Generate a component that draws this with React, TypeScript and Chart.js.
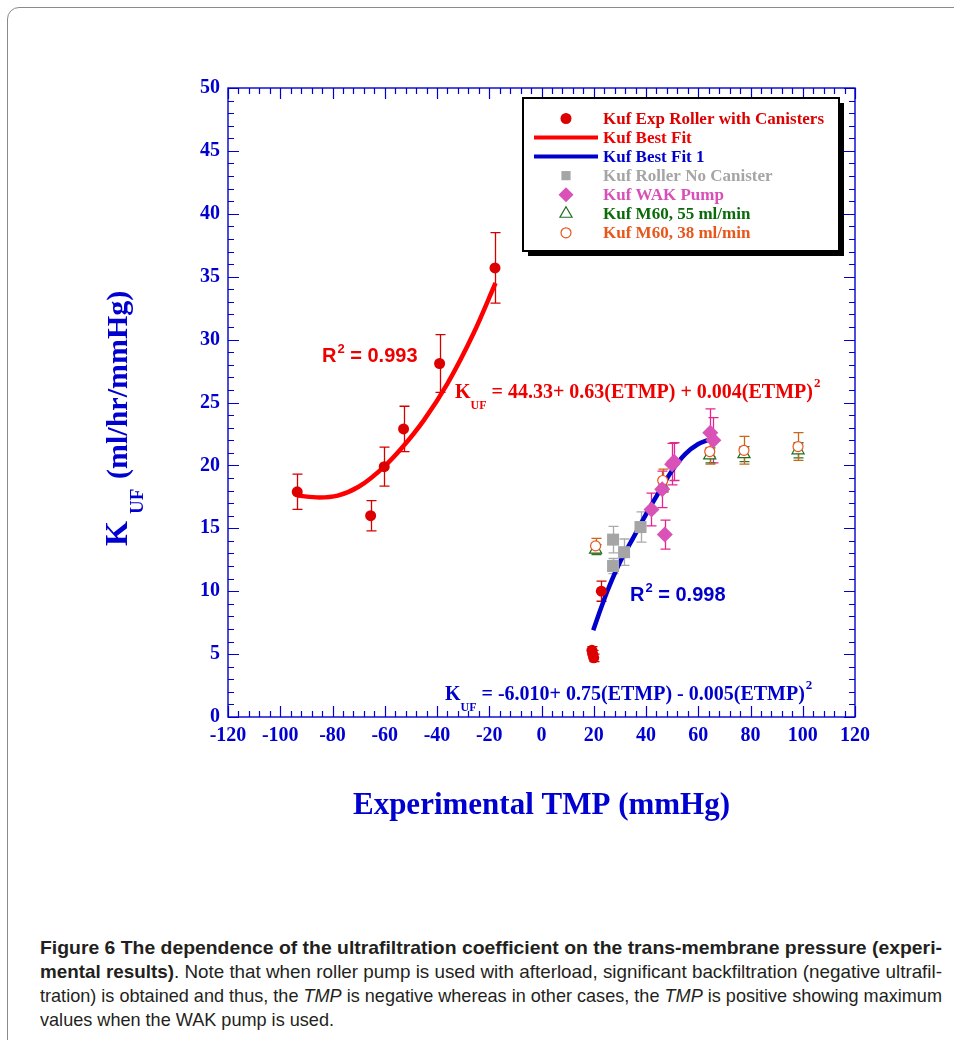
import React, { useEffect, useLayoutEffect, useRef } from "react";
import { Chart, registerables } from "chart.js";

Chart.register(...registerables);

// ---------- data ----------
const xTickValues = [-120, -100, -80, -60, -40, -20, 0, 20, 40, 60, 80, 100, 120];
const yTickValues = [0, 5, 10, 15, 20, 25, 30, 35, 40, 45, 50];

const rollerCanTMP = [-93.5, -65.4, -60.2, -52.8, -39.0, -17.8, 22.9, 19.3, 20.0, 19.6];
const rollerCanKuf = [17.9, 16.0, 19.9, 22.9, 28.1, 35.7, 10.0, 5.3, 4.7, 5.0];
const rollerCanErr = [1.4, 1.2, 1.55, 1.8, 2.3, 2.8, 0.8, 0.3, 0.3, 0.3];

const fitTMP = [-93.5, -85, -78, -70, -60, -53, -45, -36, -26, -17.6];
const fitKuf = [17.6, 17.45, 17.6, 18.3, 19.95, 21.5, 23.6, 26.5, 30.5, 34.5];

const fit1TMP = [19.8, 22, 25, 30, 35, 40, 45, 50, 55, 60, 63.5];
const fit1Kuf = [6.9, 8.2, 9.9, 12.3, 14.2, 16.1, 17.9, 19.6, 20.9, 21.7, 22.0];

const noCanTMP = [27.4, 27.4, 31.6, 37.9];
const noCanKuf = [14.1, 12.0, 13.1, 15.1];
const noCanErr = [1.05, 0.6, 1.05, 1.2];

const wakTMP = [42.1, 47.2, 46.2, 50.0, 50.8, 64.6, 65.8];
const wakKuf = [16.5, 14.5, 18.1, 20.1, 20.3, 22.6, 22.0];
const wakErr = [1.3, 1.15, 1.45, 1.65, 1.5, 1.9, 1.8];

const m55TMP = [20.7, 46.4, 64.4, 77.5, 98.2];
const m55Kuf = [13.3, 18.4, 20.8, 20.9, 21.2];
const m55Err = [0.4, 0.5, 0.6, 0.6, 0.6];

const m38TMP = [20.7, 46.4, 64.4, 77.5, 98.2];
const m38Kuf = [13.6, 18.8, 21.1, 21.2, 21.5];
const m38Err = [0.6, 0.9, 1.0, 1.1, 1.1];

const legendLabels = [
  "Kuf Exp Roller with Canisters",
  "Kuf Best Fit",
  "Kuf Best Fit 1",
  "Kuf Roller No Canister",
  "Kuf WAK Pump",
  "Kuf M60, 55 ml/min",
  "Kuf M60, 38 ml/min",
];

// ---------- helpers ----------
const pts = (xs: number[], ys: number[]) => xs.map((x, i) => ({ x, y: ys[i] }));

const SERIF = '"Liberation Serif", "Times New Roman", serif';
const SANS = '"Liberation Sans", Arial, sans-serif';
const AXIS_BLUE = "#0000d0";

function drawMarker(
  ctx: CanvasRenderingContext2D,
  style: string,
  x: number,
  y: number,
  r: number,
  fill: string,
  stroke: string,
  lw: number
) {
  ctx.beginPath();
  if (style === "circle") {
    ctx.arc(x, y, r, 0, Math.PI * 2);
  } else if (style === "rect") {
    const s = r * Math.SQRT1_2;
    ctx.rect(x - s, y - s, 2 * s, 2 * s);
  } else if (style === "rectRot") {
    ctx.moveTo(x - r, y);
    ctx.lineTo(x, y - r);
    ctx.lineTo(x + r, y);
    ctx.lineTo(x, y + r);
    ctx.closePath();
  } else if (style === "triangle") {
    ctx.moveTo(x, y - r);
    ctx.lineTo(x + r * 0.866, y + r * 0.5);
    ctx.lineTo(x - r * 0.866, y + r * 0.5);
    ctx.closePath();
  }
  ctx.fillStyle = fill;
  ctx.fill();
  if (lw > 0) {
    ctx.lineWidth = lw;
    ctx.strokeStyle = stroke;
    ctx.stroke();
  }
}

// error bars drawn through the chart's scales
const errorBarPlugin = {
  id: "errorBars",
  beforeDatasetsDraw(chart: any) {
    const { ctx, scales } = chart;
    const xs = scales.x;
    const ys = scales.y;
    chart.data.datasets.forEach((ds: any) => {
      if (!ds.errors) return;
      ctx.save();
      ctx.strokeStyle = ds.errorColor;
      ctx.lineWidth = 1.3;
      ds.data.forEach((p: any, j: number) => {
        const e = ds.errors[j];
        const px = Math.round(xs.getPixelForValue(p.x)) + 0.5;
        const y1 = ys.getPixelForValue(p.y + e);
        const y2 = ys.getPixelForValue(p.y - e);
        ctx.beginPath();
        ctx.moveTo(px, y1);
        ctx.lineTo(px, y2);
        ctx.moveTo(px - 5, y1);
        ctx.lineTo(px + 5, y1);
        ctx.moveTo(px - 5, y2);
        ctx.lineTo(px + 5, y2);
        ctx.stroke();
      });
      ctx.restore();
    });
  },
};

// frame with inward ticks on all four sides
const frameTicksPlugin = {
  id: "frameTicks",
  afterDatasetsDraw(chart: any) {
    const { ctx, chartArea: a, scales } = chart;
    const xs = scales.x;
    const ys = scales.y;
    ctx.save();
    ctx.strokeStyle = AXIS_BLUE;
    ctx.lineWidth = 1.4;
    ctx.strokeRect(a.left, a.top, a.right - a.left, a.bottom - a.top);
    ctx.lineWidth = 1.2;
    ctx.beginPath();
    for (let v = xs.min; v <= xs.max + 1e-6; v += 4) {
      const px = Math.round(xs.getPixelForValue(v)) + 0.5;
      const len = Math.abs(v % 20) < 1e-6 ? 11 : 6;
      ctx.moveTo(px, a.bottom);
      ctx.lineTo(px, a.bottom - len);
      ctx.moveTo(px, a.top);
      ctx.lineTo(px, a.top + len);
    }
    for (let v = ys.min; v <= ys.max + 1e-6; v += 1) {
      const py = Math.round(ys.getPixelForValue(v)) + 0.5;
      const len = Math.abs(v % 5) < 1e-6 ? 11 : 6;
      ctx.moveTo(a.left, py);
      ctx.lineTo(a.left + len, py);
      ctx.moveTo(a.right, py);
      ctx.lineTo(a.right - len, py);
    }
    ctx.stroke();
    ctx.restore();
  },
};

function drawSubText(
  ctx: CanvasRenderingContext2D,
  x: number,
  y: number,
  color: string,
  bigFont: string,
  subFont: string,
  subDy: number,
  rest: string,
  supFont: string,
  supDy: number
) {
  ctx.fillStyle = color;
  ctx.textBaseline = "alphabetic";
  ctx.textAlign = "left";
  ctx.font = bigFont;
  ctx.fillText("K", x, y);
  let cx = x + ctx.measureText("K").width;
  ctx.font = subFont;
  ctx.fillText("UF", cx, y + subDy);
  cx += ctx.measureText("UF").width;
  ctx.font = bigFont;
  ctx.fillText(rest, cx, y);
  cx += ctx.measureText(rest).width;
  ctx.font = supFont;
  ctx.fillText("2", cx + 1, y + supDy);
}

function drawR2(ctx: CanvasRenderingContext2D, x: number, y: number, color: string, value: string) {
  ctx.fillStyle = color;
  ctx.textBaseline = "alphabetic";
  ctx.textAlign = "left";
  ctx.font = `bold 20px ${SANS}`;
  ctx.fillText("R", x, y);
  let cx = x + ctx.measureText("R").width;
  ctx.font = `bold 13px ${SANS}`;
  ctx.fillText("2", cx + 1, y - 9);
  cx += ctx.measureText("2").width + 1;
  ctx.font = `bold 20px ${SANS}`;
  ctx.fillText(" = " + value, cx, y);
}

const annotationPlugin = {
  id: "annotations",
  afterDraw(chart: any) {
    const ctx: CanvasRenderingContext2D = chart.ctx;
    const a = chart.chartArea;
    ctx.save();

    // axis titles
    ctx.fillStyle = AXIS_BLUE;
    ctx.font = `bold 31px ${SERIF}`;
    ctx.textAlign = "center";
    ctx.textBaseline = "alphabetic";
    ctx.fillText("Experimental TMP (mmHg)", (a.left + a.right) / 2, 814);

    ctx.save();
    ctx.translate(127, 546);
    ctx.rotate(-Math.PI / 2);
    ctx.textAlign = "left";
    ctx.font = `bold 32px ${SERIF}`;
    ctx.fillText("K", 0, 0);
    ctx.font = `bold 19px ${SERIF}`;
    ctx.fillText("UF", 32, 16);
    ctx.font = `bold 30px ${SERIF}`;
    ctx.fillText("(ml/hr/mmHg)", 67, 0);
    ctx.restore();

    // fit annotations
    drawR2(ctx, 322, 362, "#ee0000", "0.993");
    drawSubText(
      ctx, 455, 398, "#ee0000",
      `bold 20px ${SERIF}`, `bold 12px ${SERIF}`, 11,
      " = 44.33+ 0.63(ETMP) + 0.004(ETMP)",
      `bold 13px ${SERIF}`, -11
    );
    drawR2(ctx, 630, 601, "#0000cc", "0.998");
    drawSubText(
      ctx, 445, 700, "#0000cc",
      `bold 20px ${SERIF}`, `bold 12px ${SERIF}`, 11,
      " = -6.010+ 0.75(ETMP) - 0.005(ETMP)",
      `bold 13px ${SERIF}`, -11
    );

    // legend box
    const bx = 523, by = 98, bw = 316, bh = 153;
    ctx.fillStyle = "#000";
    ctx.fillRect(bx + 5, by + 5, bw, bh);
    ctx.fillStyle = "#fff";
    ctx.fillRect(bx, by, bw, bh);
    ctx.strokeStyle = "#000";
    ctx.lineWidth = 2;
    ctx.strokeRect(bx, by, bw, bh);

    const ds = chart.data.datasets;
    ctx.textAlign = "left";
    ctx.textBaseline = "middle";
    ds.forEach((d: any, i: number) => {
      const rowY = 118.5 + i * 19.05;
      if (d.showLine) {
        ctx.strokeStyle = d.borderColor;
        ctx.lineWidth = 4;
        ctx.beginPath();
        ctx.moveTo(534, rowY);
        ctx.lineTo(598, rowY);
        ctx.stroke();
      } else {
        drawMarker(
          ctx, d.pointStyle, 566, rowY, d.legendRadius,
          d.pointBackgroundColor, d.pointBorderColor, d.pointBorderWidth
        );
      }
      ctx.fillStyle = d.legendColor;
      ctx.font = `bold 17px ${SERIF}`;
      ctx.fillText(d.label, 603, rowY + 1);
    });

    ctx.restore();
  },
};

// ---------- component ----------
export default function App() {
  const ref = useRef<HTMLCanvasElement>(null);
  const capRefs = useRef<(HTMLSpanElement | null)[]>([]);

  useLayoutEffect(() => {
    const targets = [902, 902, 902, 0];
    let last = 1;
    capRefs.current.forEach((el, i) => {
      if (!el) return;
      el.style.transform = "none";
      const w = el.getBoundingClientRect().width;
      const s = targets[i] ? targets[i] / w : last;
      el.style.transform = `scaleX(${s})`;
      last = s;
    });
  }, []);

  useEffect(() => {
    const canvas = ref.current;
    if (!canvas) return;
    const chart = new Chart(canvas, {
      type: "scatter",
      data: {
        datasets: [
          {
            label: legendLabels[0],
            data: pts(rollerCanTMP, rollerCanKuf),
            errors: rollerCanErr,
            errorColor: "#d40000",
            pointStyle: "circle",
            pointRadius: 5.5,
            legendRadius: 5.5,
            pointBackgroundColor: "#dd0000",
            pointBorderColor: "#dd0000",
            pointBorderWidth: 0,
            legendColor: "#dd0000",
            order: 1,
          },
          {
            label: legendLabels[1],
            data: pts(fitTMP, fitKuf),
            showLine: true,
            borderColor: "#ff0000",
            borderWidth: 4.5,
            pointRadius: 0,
            cubicInterpolationMode: "monotone",
            legendColor: "#ee0000",
            order: 10,
          },
          {
            label: legendLabels[2],
            data: pts(fit1TMP, fit1Kuf),
            showLine: true,
            borderColor: "#0000cc",
            borderWidth: 4.5,
            pointRadius: 0,
            cubicInterpolationMode: "monotone",
            legendColor: "#0000cc",
            order: 9,
          },
          {
            label: legendLabels[3],
            data: pts(noCanTMP, noCanKuf),
            errors: noCanErr,
            errorColor: "#aaaaaa",
            pointStyle: "rect",
            pointRadius: 8.5,
            legendRadius: 6.5,
            pointBackgroundColor: "#a5a5a5",
            pointBorderColor: "#a5a5a5",
            pointBorderWidth: 0,
            legendColor: "#a5a5a5",
            order: 5,
          },
          {
            label: legendLabels[4],
            data: pts(wakTMP, wakKuf),
            errors: wakErr,
            errorColor: "#e6248e",
            pointStyle: "rectRot",
            pointRadius: 8,
            legendRadius: 7.5,
            pointBackgroundColor: "#d952b8",
            pointBorderColor: "#d952b8",
            pointBorderWidth: 0,
            legendColor: "#d94fb8",
            order: 2,
          },
          {
            label: legendLabels[5],
            data: pts(m55TMP, m55Kuf),
            errors: m55Err,
            errorColor: "#2a7a2a",
            pointStyle: "triangle",
            pointRadius: 7,
            legendRadius: 7,
            pointBackgroundColor: "#ffffff",
            pointBorderColor: "#1f6e1f",
            pointBorderWidth: 1.2,
            legendColor: "#0b6b0b",
            order: 4,
          },
          {
            label: legendLabels[6],
            data: pts(m38TMP, m38Kuf),
            errors: m38Err,
            errorColor: "#c8661a",
            pointStyle: "circle",
            pointRadius: 5,
            legendRadius: 5,
            pointBackgroundColor: "#ffffff",
            pointBorderColor: "#e8561c",
            pointBorderWidth: 1.2,
            legendColor: "#e8561c",
            order: 3,
          },
        ] as any,
      },
      options: {
        responsive: false,
        animation: false,
        events: [],
        layout: { padding: { left: 0, right: 99, top: 88, bottom: 123 } },
        plugins: {
          legend: { display: false },
          tooltip: { enabled: false },
        },
        scales: {
          x: {
            type: "linear",
            min: -120,
            max: 120,
            afterBuildTicks: (s: any) => {
              s.ticks = xTickValues.map((v) => ({ value: v }));
            },
            afterFit: (s: any) => {
              s.height = 40;
            },
            grid: { display: false, drawTicks: false },
            border: { display: false },
            ticks: {
              color: AXIS_BLUE,
              font: { family: SERIF, size: 20, weight: "bold" },
              padding: 7,
              maxRotation: 0,
              autoSkip: false,
            },
          },
          y: {
            type: "linear",
            min: 0,
            max: 50,
            afterBuildTicks: (s: any) => {
              s.ticks = yTickValues.map((v) => ({ value: v }));
            },
            afterFit: (s: any) => {
              s.width = 228;
            },
            grid: { display: false, drawTicks: false },
            border: { display: false },
            ticks: {
              color: AXIS_BLUE,
              font: { family: SERIF, size: 20, weight: "bold" },
              padding: 8,
              autoSkip: false,
            },
          },
        },
      } as any,
      plugins: [errorBarPlugin, frameTicksPlugin, annotationPlugin],
    });
    return () => chart.destroy();
  }, []);

  const capFont = '"Liberation Sans Narrow", "Liberation Sans", Arial, sans-serif';
  const lineStyle: React.CSSProperties = {
    height: 24,
    lineHeight: "24px",
    whiteSpace: "nowrap",
  };
  const spanStyle: React.CSSProperties = {
    display: "inline-block",
    transformOrigin: "0 50%",
  };

  return (
    <div
      style={{
        position: "absolute",
        left: 0,
        top: 0,
        width: 954,
        height: 1040,
        overflow: "hidden",
        background: "#fff",
      }}
    >
      <div
        style={{
          position: "absolute",
          left: 7,
          top: 7,
          width: 1000,
          height: 1100,
          border: "1px solid #8a8a8a",
          borderTopLeftRadius: 12,
          boxSizing: "border-box",
        }}
      />
      <canvas
        ref={ref}
        width={954}
        height={880}
        style={{ position: "absolute", left: 0, top: 0, width: 954, height: 880 }}
      />
      <div
        style={{
          position: "absolute",
          left: 40,
          top: 936,
          width: 920,
          fontFamily: capFont,
          fontSize: 19,
          color: "#231f20",
        }}
      >
        <div style={lineStyle}>
          <span ref={(el) => { capRefs.current[0] = el; }} style={{ ...spanStyle, fontWeight: "bold" }}>
            Figure 6 The dependence of the ultrafiltration coefficient on the trans-membrane pressure (experi-
          </span>
        </div>
        <div style={lineStyle}>
          <span ref={(el) => { capRefs.current[1] = el; }} style={spanStyle}>
            <b>mental results)</b>. Note that when roller pump is used with afterload, significant backfiltration (negative ultrafil-
          </span>
        </div>
        <div style={lineStyle}>
          <span ref={(el) => { capRefs.current[2] = el; }} style={spanStyle}>
            tration) is obtained and thus, the <i>TMP</i> is negative whereas in other cases, the <i>TMP</i> is positive showing maximum
          </span>
        </div>
        <div style={lineStyle}>
          <span ref={(el) => { capRefs.current[3] = el; }} style={spanStyle}>
            values when the WAK pump is used.
          </span>
        </div>
      </div>
    </div>
  );
}
